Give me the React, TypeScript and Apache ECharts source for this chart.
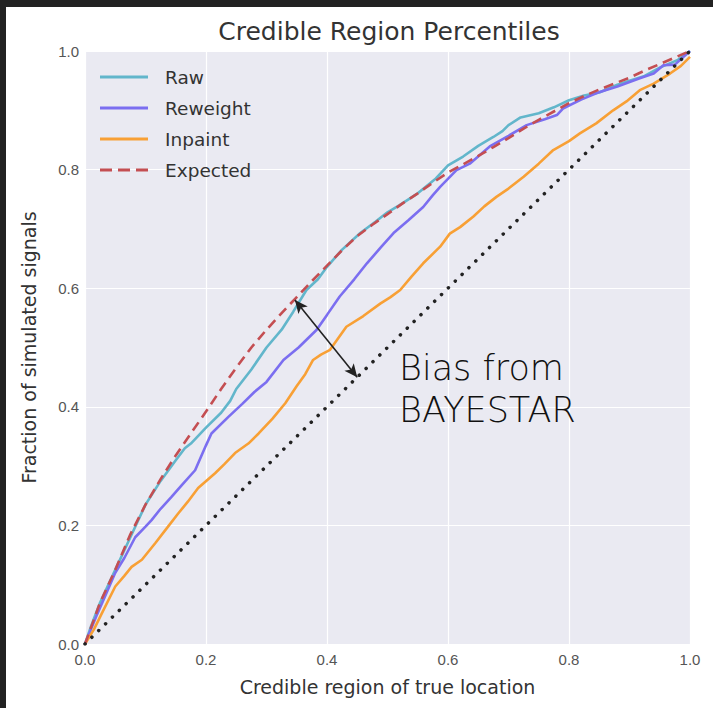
import React, { useEffect, useRef } from "react";
import * as echarts from "echarts";

const xTicks = [0, 0.2, 0.4, 0.6, 0.8, 1.0];
const yTicks = [0, 0.2, 0.4, 0.6, 0.8, 1.0];

const rawData: [number, number][] = [
  [0, 0], [0.01, 0.03], [0.025, 0.07], [0.05, 0.125], [0.075, 0.18], [0.1, 0.235],
  [0.125, 0.275], [0.15, 0.31], [0.165, 0.33], [0.175, 0.338], [0.2, 0.365], [0.225, 0.39],
  [0.24, 0.41], [0.25, 0.43], [0.275, 0.463], [0.3, 0.5], [0.325, 0.53], [0.344, 0.56],
  [0.366, 0.597], [0.385, 0.615], [0.4, 0.636], [0.425, 0.665], [0.455, 0.693], [0.48, 0.712],
  [0.5, 0.728], [0.52, 0.74], [0.55, 0.76], [0.58, 0.785], [0.6, 0.807], [0.625, 0.822],
  [0.65, 0.84], [0.675, 0.855], [0.69, 0.865], [0.7, 0.875], [0.72, 0.888], [0.75, 0.895],
  [0.775, 0.905], [0.8, 0.917], [0.825, 0.925], [0.85, 0.93], [0.88, 0.943], [0.9, 0.95],
  [0.925, 0.958], [0.95, 0.972], [0.98, 0.985], [1, 1],
];

const reweightData: [number, number][] = [
  [0, 0], [0.02, 0.05], [0.033, 0.08], [0.05, 0.12], [0.065, 0.145], [0.083, 0.18],
  [0.1, 0.198], [0.11, 0.209], [0.125, 0.228], [0.143, 0.248], [0.16, 0.268], [0.182, 0.293],
  [0.2, 0.335], [0.209, 0.355], [0.237, 0.383], [0.26, 0.405], [0.28, 0.425], [0.3, 0.442],
  [0.328, 0.479], [0.353, 0.5], [0.383, 0.53], [0.4, 0.555], [0.421, 0.586], [0.445, 0.615],
  [0.466, 0.642], [0.49, 0.67], [0.51, 0.693], [0.535, 0.715], [0.559, 0.737], [0.575, 0.757],
  [0.587, 0.771], [0.614, 0.799], [0.636, 0.81], [0.669, 0.839], [0.7, 0.857], [0.73, 0.875],
  [0.76, 0.885], [0.78, 0.892], [0.79, 0.903], [0.82, 0.918], [0.851, 0.931], [0.88, 0.94],
  [0.917, 0.954], [0.94, 0.962], [0.956, 0.976], [0.975, 0.977], [1, 1],
];

const inpaintData: [number, number][] = [
  [0, 0], [0.015, 0.025], [0.028, 0.052], [0.05, 0.097], [0.065, 0.115], [0.077, 0.13],
  [0.094, 0.142], [0.116, 0.17], [0.135, 0.195], [0.154, 0.22], [0.17, 0.24], [0.187, 0.263],
  [0.215, 0.288], [0.23, 0.303], [0.248, 0.322], [0.27, 0.338], [0.287, 0.355], [0.31, 0.38],
  [0.331, 0.406], [0.35, 0.435], [0.364, 0.455], [0.377, 0.479], [0.39, 0.488], [0.405, 0.496],
  [0.432, 0.535], [0.46, 0.553], [0.488, 0.574], [0.505, 0.585], [0.521, 0.597], [0.54, 0.62],
  [0.559, 0.642], [0.587, 0.67], [0.603, 0.692], [0.62, 0.703], [0.642, 0.721], [0.66, 0.738],
  [0.68, 0.754], [0.7, 0.768], [0.725, 0.788], [0.75, 0.81], [0.774, 0.833], [0.8, 0.848],
  [0.818, 0.861], [0.845, 0.878], [0.873, 0.9], [0.895, 0.915], [0.917, 0.934], [0.94, 0.945],
  [0.967, 0.962], [0.985, 0.975], [1, 0.99],
];

const expectedData: [number, number][] = [
  [0, 0], [0.025, 0.07], [0.05, 0.125], [0.075, 0.185], [0.1, 0.235], [0.125, 0.278],
  [0.15, 0.318], [0.175, 0.355], [0.2, 0.392], [0.225, 0.43], [0.25, 0.466], [0.275, 0.5],
  [0.3, 0.53], [0.325, 0.558], [0.35, 0.585], [0.375, 0.612], [0.4, 0.638], [0.425, 0.664],
  [0.45, 0.688], [0.475, 0.707], [0.5, 0.725], [0.525, 0.743], [0.55, 0.76], [0.575, 0.778],
  [0.6, 0.795], [0.625, 0.809], [0.65, 0.823], [0.675, 0.838], [0.7, 0.853], [0.725, 0.869],
  [0.75, 0.884], [0.775, 0.898], [0.8, 0.912], [0.825, 0.924], [0.85, 0.935], [0.875, 0.945],
  [0.9, 0.955], [0.925, 0.967], [0.95, 0.978], [0.975, 0.989], [1, 1],
];

const diagonalData: [number, number][] = [[0, 0], [1, 1]];

const seriesNames = ["Raw", "Reweight", "Inpaint", "Expected"];
const seriesColors = ["#62B6CB", "#7B6EF0", "#F8A035", "#C44E52"];

const titleText = "Credible Region Percentiles";
const xAxisName = "Credible region of true location";
const yAxisName = "Fraction of simulated signals";
const annotationText = "Bias from\nBAYESTAR";
const arrowStart: [number, number] = [0.347, 0.58];
const arrowEnd: [number, number] = [0.45, 0.45];

const dashedIcon = "path://M0,0H12V3H0Z M18,0H30V3H18Z M36,0H48V3H36Z";

export default function App() {
  const ref = useRef<HTMLDivElement>(null);

  useEffect(() => {
    document.body.style.margin = "0";
    if (!ref.current) return;
    const chart = echarts.init(ref.current, undefined, { renderer: "svg" });
    const lineSeries = (name: string, data: [number, number][], color: string, type: any) => ({
      name,
      type: "line",
      data,
      showSymbol: false,
      symbol: "none",
      lineStyle: { color, width: 2.6, type },
      itemStyle: { color },
      z: 3,
    });
    const labelFont = "DejaVu Sans, sans-serif";
    chart.setOption({
      animation: false,
      backgroundColor: "#ffffff",
      textStyle: { fontFamily: "Liberation Sans, Arial, sans-serif" },
      grid: {
        left: 85,
        top: 51,
        width: 605,
        height: 593,
        show: true,
        backgroundColor: "#EAEAF2",
        borderWidth: 0,
      },
      legend: {
        orient: "vertical",
        left: 100,
        top: 67,
        padding: 0,
        itemWidth: 48,
        itemHeight: 3,
        itemGap: 11,
        data: seriesNames.map((n, i) => ({ name: n, icon: i === 3 ? dashedIcon : "rect" })),
        textStyle: {
          fontSize: 18.5,
          lineHeight: 20,
          color: "#333333",
          fontFamily: labelFont,
          padding: [0, 0, 0, 12],
        },
      },
      xAxis: {
        type: "value",
        min: xTicks[0],
        max: xTicks[xTicks.length - 1],
        interval: 0.2,
        name: xAxisName,
        nameLocation: "middle",
        nameGap: 33,
        nameTextStyle: { fontSize: 19, color: "#333333", fontFamily: labelFont },
        axisLine: { show: false },
        axisTick: { show: false },
        axisLabel: {
          fontSize: 15,
          color: "#555555",
          margin: 8,
          formatter: (v: number) => v.toFixed(1),
        },
        splitLine: { show: true, lineStyle: { color: "#ffffff", width: 1.2 } },
      },
      yAxis: {
        type: "value",
        min: yTicks[0],
        max: yTicks[yTicks.length - 1],
        interval: 0.2,
        name: yAxisName,
        nameLocation: "middle",
        nameGap: 47,
        nameTextStyle: { fontSize: 19, color: "#333333", fontFamily: labelFont },
        axisLine: { show: false },
        axisTick: { show: false },
        axisLabel: {
          fontSize: 15,
          color: "#555555",
          margin: 6,
          formatter: (v: number) => v.toFixed(1),
        },
        splitLine: { show: true, lineStyle: { color: "#ffffff", width: 1.2 } },
      },
      graphic: [
        { type: "rect", shape: { x: 0, y: 0, width: 713, height: 7 }, style: { fill: "#222222" }, z: 100 },
        { type: "rect", shape: { x: 0, y: 0, width: 6, height: 708 }, style: { fill: "#222222" }, z: 100 },
        {
          type: "text",
          x: 389,
          y: 31,
          style: {
            text: titleText,
            fontSize: 25,
            fontFamily: labelFont,
            fill: "#333333",
            textAlign: "center",
            textVerticalAlign: "middle",
          },
          z: 100,
        },
        {
          type: "text",
          x: 399,
          y: 389,
          style: {
            text: annotationText,
            fontSize: 35,
            lineHeight: 42,
            fontWeight: 300,
            fontFamily: labelFont,
            fill: "#111111",
            textAlign: "left",
            textVerticalAlign: "middle",
          },
          z: 100,
        },
      ],
      series: [
        lineSeries(seriesNames[0], rawData, seriesColors[0], "solid"),
        lineSeries(seriesNames[1], reweightData, seriesColors[1], "solid"),
        lineSeries(seriesNames[2], inpaintData, seriesColors[2], "solid"),
        lineSeries(seriesNames[3], expectedData, seriesColors[3], [10, 6]),
        {
          name: "diagonal",
          type: "line",
          data: diagonalData,
          showSymbol: false,
          symbol: "none",
          lineStyle: { color: "#222222", width: 3.5, type: [0.1, 9.5], cap: "round" },
          z: 4,
          markLine: {
            silent: true,
            symbol: ["arrow", "arrow"],
            symbolSize: [9, 13],
            label: { show: false },
            lineStyle: { color: "#222222", width: 1.6, type: "solid" },
            data: [[{ coord: arrowStart }, { coord: arrowEnd }]],
          },
        },
      ],
    });
    return () => chart.dispose();
  }, []);

  return (
    <div
      ref={ref}
      style={{ position: "fixed", left: 0, top: 0, width: 713, height: 708 }}
    />
  );
}
